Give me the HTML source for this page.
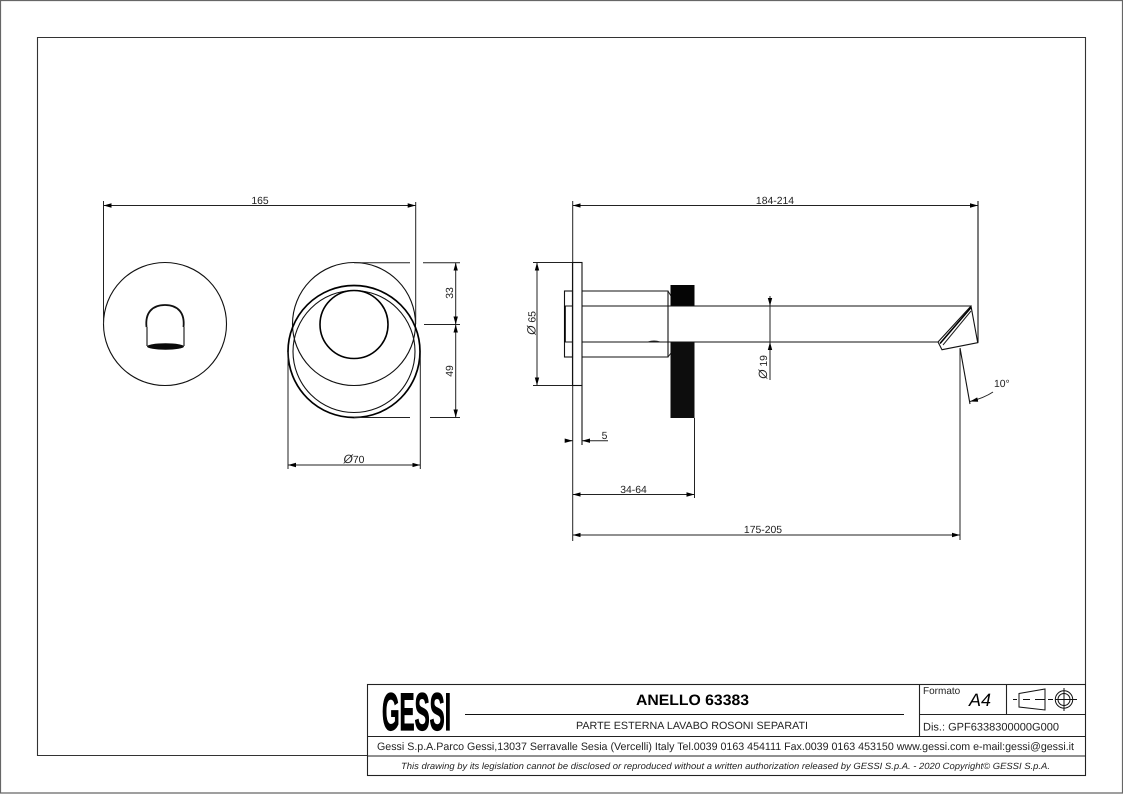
<!DOCTYPE html>
<html lang="it">
<head>
<meta charset="utf-8">
<title>ANELLO 63383</title>
<style>
html,body{margin:0;padding:0;background:#fff;width:1123px;height:794px;overflow:hidden}
svg{display:block}
text{font-family:"Liberation Sans",sans-serif;fill:#222;text-rendering:geometricPrecision}
.l{fill:none;stroke:#111;stroke-width:1.1}
.d{fill:none;stroke:#222;stroke-width:1}
.t{fill:none;stroke:#111;stroke-width:1.8}
.f{fill:none;stroke:#333;stroke-width:1.1}
.a{fill:none;stroke:#222;stroke-width:1;marker-start:url(#ar);marker-end:url(#ar)}
.e{fill:none;stroke:#222;stroke-width:1;marker-end:url(#ar)}
.dim{font-size:10.4px}
</style>
</head>
<body>
<svg width="1123" height="794" viewBox="0 0 1123 794" xmlns="http://www.w3.org/2000/svg">
<defs>
<marker id="ar" markerUnits="userSpaceOnUse" markerWidth="9" markerHeight="6" refX="8" refY="2.500" orient="auto-start-reverse">
<path d="M0,0.300 L8,2.500 L0,4.700 Z" fill="#000"/>
</marker>
</defs>

<!-- frames -->
<path d="M.5,793 V.5 H1122.500 V793 Z" fill="none" stroke="#666" stroke-width="1.200"/>
<path d="M367,755.500 H37.500 V37.500 H1085.500 V684" class="f"/>

<!-- left view -->
<circle cx="165" cy="324" r="61.500" class="l"/>
<path d="M146.500,327 C145,313 152,305 165,305 C178,305 185,313 183.500,327" class="t"/>
<path d="M147,327 V346 M184,327 V346" class="l"/>
<ellipse cx="165.500" cy="346.500" rx="18.500" ry="3.200" fill="#0a0a0a"/>

<!-- front view -->
<circle cx="354" cy="324" r="61.500" class="l"/>
<circle cx="354" cy="351.500" r="66" fill="none" stroke="#000" stroke-width="1.700"/>
<circle cx="354" cy="351.500" r="61" class="l"/>
<circle cx="354" cy="324.500" r="34" fill="none" stroke="#000" stroke-width="1.600"/>

<!-- left dims -->
<path d="M103.500,201 V324 M415.700,202 V324" class="d"/>
<line x1="103.500" y1="205.500" x2="415.700" y2="205.500" class="a"/>
<text x="260" y="204" text-anchor="middle" class="dim">165</text>
<path d="M354,262.700 H410 M423,262.700 H460 M424,324.500 H460 M354,417.500 H410 M430,417.500 H460" class="d"/>
<line x1="455.700" y1="262.700" x2="455.700" y2="324.500" class="a"/>
<line x1="455.700" y1="324.500" x2="455.700" y2="417.500" class="a"/>
<text transform="translate(453,293) rotate(-90)" text-anchor="middle" class="dim">33</text>
<text transform="translate(453,371) rotate(-90)" text-anchor="middle" class="dim">49</text>
<path d="M288,352 V469 M420.300,352 V469" class="d"/>
<line x1="288" y1="465" x2="420.300" y2="465" class="a"/>
<text x="354" y="463" text-anchor="middle" class="dim"><tspan font-style="italic" font-size="12">Ø</tspan>70</text>

<!-- side view -->
<path d="M572.700,201 V541" class="d"/>
<rect x="572.500" y="262.500" width="9.500" height="123" class="l"/>
<rect x="564.500" y="291" width="8" height="66" class="l"/>
<path d="M565,306 V342" fill="none" stroke="#000" stroke-width="1.600"/>
<path d="M565,306 H572.500 M565,342 H572.500" class="l"/>
<path d="M582,291 H668 V357 H582" class="l"/>
<path d="M668,291 L671,296 M668,357 L671,353" class="d"/>
<path d="M670.500,285 H694.500 V306 H670.500 Z" fill="#050505"/>
<path d="M670.500,342 H694.500 V418 H670.500 Z" fill="#0d0d0d"/>
<path d="M582,306 H971 M582,342 H938" class="l"/>
<path d="M648,342 Q654,340 660,342" class="d"/>
<path d="M938,342 L971,306 L977.700,342.700 L942,349.700 Z" fill="#fff" stroke="#111" stroke-width="1.100"/>
<path d="M940,343.500 L971,307.500" fill="none" stroke="#000" stroke-width="1.600"/>
<path d="M943,345 L971,311" class="d"/>

<!-- side dims -->
<path d="M978,201 V342.700" class="l"/>
<line x1="572.700" y1="205.500" x2="978" y2="205.500" class="a"/>
<text x="775" y="204" text-anchor="middle" class="dim">184-214</text>

<path d="M533,262.500 H572 M533,385.500 H572" class="d"/>
<line x1="537" y1="262.500" x2="537" y2="385.500" class="a"/>
<text transform="translate(535.500,323) rotate(-90)" text-anchor="middle" class="dim"><tspan font-style="italic" font-size="12">Ø</tspan> 65</text>

<path d="M582,385.500 V445" class="l"/>
<line x1="565" y1="440.700" x2="572.700" y2="440.700" class="e"/>
<line x1="608" y1="440.700" x2="582" y2="440.700" class="e"/>
<text x="604.500" y="439" text-anchor="middle" class="dim">5</text>

<path d="M694.500,418 V498" class="d"/>
<line x1="572.700" y1="494.500" x2="694.500" y2="494.500" class="a"/>
<text x="633.500" y="493" text-anchor="middle" class="dim">34-64</text>

<path d="M960,349 V540" class="d"/>
<line x1="572.700" y1="535" x2="960" y2="535" class="a"/>
<text x="763" y="533" text-anchor="middle" class="dim">175-205</text>

<path d="M770,296 V380" class="d"/>
<line x1="770" y1="297" x2="770" y2="306" class="e"/>
<line x1="770" y1="350" x2="770" y2="342" class="e"/>
<text transform="translate(767,367) rotate(-90)" text-anchor="middle" class="dim"><tspan font-style="italic" font-size="12">Ø</tspan> 19</text>

<path d="M960,348 L970,404" class="l"/>
<path d="M993,392 Q984,398 970,401.500" class="e"/>
<text x="994" y="387" font-size="10.400">10°</text>

<!-- title block -->
<rect x="367.500" y="684.500" width="718" height="91" fill="#fff" stroke="#222" stroke-width="1.100"/>
<path d="M367.500,736.500 H1085.500 M367.500,756 H1085.500 M919.500,684.500 V736.500 M1006.500,684.500 V714.500 M919.500,714.500 H1085.500" fill="none" stroke="#222" stroke-width="1.100"/>
<path d="M465,714.500 H904" class="l"/>

<text x="382" y="730" textLength="69" lengthAdjust="spacingAndGlyphs" font-size="53" font-weight="700" style="fill:#000;stroke:#000;stroke-width:1.200">GESSI</text>

<text x="636" y="705" textLength="113" lengthAdjust="spacingAndGlyphs" font-size="15" font-weight="700" style="fill:#000">ANELLO 63383</text>
<text x="576" y="729" textLength="232" lengthAdjust="spacingAndGlyphs" font-size="10.500">PARTE ESTERNA LAVABO ROSONI SEPARATI</text>
<text x="923" y="694" font-size="10">Formato</text>
<text x="969" y="706" font-size="18" font-style="italic" style="fill:#000">A4</text>
<text x="923" y="730.500" textLength="136" lengthAdjust="spacingAndGlyphs" font-size="11">Dis.: GPF6338300000G000</text>
<text x="377" y="750" textLength="697" lengthAdjust="spacingAndGlyphs" font-size="10.800">Gessi S.p.A.Parco Gessi,13037 Serravalle Sesia (Vercelli) Italy Tel.0039 0163 454111 Fax.0039 0163 453150 www.gessi.com e-mail:gessi@gessi.it</text>
<text x="401" y="769" textLength="649" lengthAdjust="spacingAndGlyphs" font-size="9" font-style="italic">This drawing by its legislation cannot be disclosed or reproduced without a written authorization released by GESSI S.p.A. - 2020 Copyright© GESSI S.p.A.</text>

<!-- projection symbol -->
<path d="M1019,693.500 L1045,689 V710 L1019,707 Z" fill="none" stroke="#111" stroke-width="1"/>
<path d="M1013,699.500 H1017 M1023,699.500 H1030 M1035,699.500 H1045 M1048,699.500 H1053" fill="none" stroke="#111" stroke-width="1"/>
<circle cx="1064" cy="699.500" r="8.700" fill="none" stroke="#111" stroke-width="1"/>
<circle cx="1064" cy="699.500" r="6" fill="none" stroke="#111" stroke-width="1"/>
<path d="M1055,699.500 H1077 M1064,688 V711" fill="none" stroke="#111" stroke-width="1"/>
</svg>
</body>
</html>
